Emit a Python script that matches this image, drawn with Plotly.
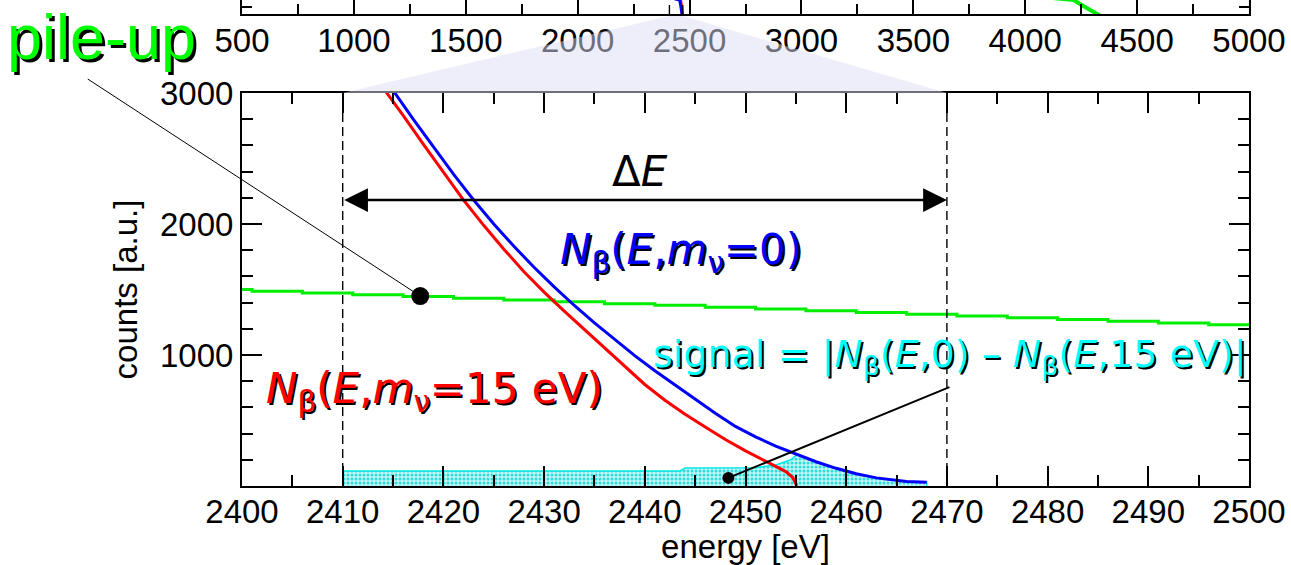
import plotly.graph_objects as go

# ---------------- data ----------------
# lower panel: zoom on the end-point region
blue_E = [2415, 2417, 2419, 2421, 2423, 2425, 2427, 2429, 2431, 2433, 2435, 2437, 2439,
          2441, 2443, 2445, 2447, 2449, 2451, 2453, 2455, 2457, 2459, 2461, 2463, 2465,
          2466, 2468]
blue_N = [3020, 2800, 2590, 2380, 2183, 2000, 1830, 1670, 1520, 1378, 1245, 1118, 995,
          880, 770, 660, 555, 455, 375, 305, 242, 185, 135, 93, 62, 42, 35, 28]

red_E = [2414, 2416, 2418, 2420, 2422, 2424, 2426, 2428, 2430, 2432, 2434, 2436, 2438,
         2440, 2442, 2444, 2446, 2448, 2450, 2452, 2453, 2454, 2454.7, 2455, 2455.1]
red_N = [3040, 2830, 2610, 2400, 2183, 1990, 1808, 1635, 1480, 1335, 1195, 1055, 915,
         775, 655, 548, 450, 355, 268, 188, 150, 110, 65, 20, 0]

green_E = [2400, 2401, 2406, 2411, 2416, 2421, 2426, 2431, 2436, 2441, 2446, 2451, 2456,
           2461, 2466, 2471, 2476, 2481, 2486, 2491, 2496, 2500]
green_N = [1500, 1487, 1473, 1460, 1446, 1433, 1419, 1406, 1392, 1379, 1365, 1352, 1338,
           1325, 1311, 1298, 1284, 1271, 1257, 1244, 1230, 1230]

signal_E = [2410, 2443.5, 2444, 2451, 2453, 2454.5, 2455.1, 2457, 2459, 2461, 2463, 2465,
            2466, 2468, 2468]
signal_N = [115, 115, 137, 140, 160, 200, 240, 185, 135, 93, 62, 42, 35, 28, 0]

window_E = [2410, 2470]          # Delta E analysis window
arrow_level = 2183               # height of the Delta E arrow
pileup_dot = (2417.7, 1450)
signal_dot = (2448.3, 62)
signal_line_end = (2470.4, 760)

# upper panel: full spectrum (only its lowest strip is visible)
up_blue_E = [2300, 2455, 2460, 2464, 2467, 2468]
up_blue_N = [1e5, 1000, 100, 10, 1, 0.3]
up_red_E = [2300, 2460, 2463, 2466, 2468, 2468.5]
up_red_N = [1e5, 1000, 100, 10, 1, 0.3]
up_green_E = [4000, 4217, 4250, 4283, 4316, 4340]
up_green_N = [1e4, 1000, 100, 10, 1, 0.3]

lower_xticks = [2400, 2410, 2420, 2430, 2440, 2450, 2460, 2470, 2480, 2490, 2500]
lower_yticks = [1000, 2000, 3000]
upper_xticks = [500, 1000, 1500, 2000, 2500, 3000, 3500, 4000, 4500, 5000]

# ---------------- layout geometry ----------------
W, H = 1291, 565
ML, MR, MT, MB = 242, 42, 0, 79
plot_h = H - MT - MB
lower_top = (plot_h - 93) / plot_h
upper_bottom = (plot_h - 14) / plot_h
LX = [2400, 2500]
UX = [500, 5000]

AX_FONT = dict(family="Liberation Sans, Arial, sans-serif", size=33, color="black")
LAB = "DejaVu Sans, sans-serif"

fig = go.Figure()

# upper panel traces
fig.add_trace(go.Scatter(x=up_red_E, y=up_red_N, xaxis="x2", yaxis="y2", mode="lines",
                         line=dict(color="#ff0000", width=3), hoverinfo="skip"))
fig.add_trace(go.Scatter(x=up_blue_E, y=up_blue_N, xaxis="x2", yaxis="y2", mode="lines",
                         line=dict(color="#0000ff", width=3), hoverinfo="skip"))
fig.add_trace(go.Scatter(x=up_green_E, y=up_green_N, xaxis="x2", yaxis="y2", mode="lines",
                         line=dict(color="#00ee00", width=4), hoverinfo="skip"))

# lower panel traces
fig.add_trace(go.Scatter(x=signal_E, y=signal_N, mode="lines", fill="tozeroy",
                         line=dict(color="#00e8e8", width=1.5),
                         fillcolor="#c4f6f6",
                         fillpattern=dict(shape=".", bgcolor="#c4f6f6", fgcolor="#30dada",
                                          size=4, solidity=0.45),
                         hoverinfo="skip"))
fig.add_trace(go.Scatter(x=green_E, y=green_N, mode="lines", line_shape="hv",
                         line=dict(color="#00ee00", width=3), hoverinfo="skip"))
fig.add_trace(go.Scatter(x=red_E, y=red_N, mode="lines",
                         line=dict(color="#ff0000", width=3), hoverinfo="skip"))
fig.add_trace(go.Scatter(x=blue_E, y=blue_N, mode="lines",
                         line=dict(color="#0000ff", width=3), hoverinfo="skip"))
fig.add_trace(go.Scatter(x=[pileup_dot[0]], y=[pileup_dot[1]], mode="markers",
                         marker=dict(color="black", size=18), hoverinfo="skip"))
fig.add_trace(go.Scatter(x=[signal_dot[0]], y=[signal_dot[1]], mode="markers",
                         marker=dict(color="black", size=12), hoverinfo="skip"))

# shapes
shapes = []
for e in window_E:
    shapes.append(dict(type="line", xref="x", yref="y", x0=e, x1=e, y0=0, y1=3000,
                       line=dict(color="black", width=1.4, dash="9px,5px"), layer="above"))
    shapes.append(dict(type="line", xref="x2", yref="y2 domain", x0=e, x1=e, y0=0, y1=1,
                       line=dict(color="black", width=1.4, dash="9px,5px"), layer="above"))

def ux(e):
    return (e - UX[0]) / (UX[1] - UX[0])

def lx(e):
    return (e - LX[0]) / (LX[1] - LX[0])

path = (f"M {ux(window_E[0])},{upper_bottom - 0.004} L {ux(window_E[1])},{upper_bottom - 0.004} "
        f"L {lx(window_E[1])},{lower_top} L {lx(window_E[0])},{lower_top} Z")
shapes.append(dict(type="path", xref="paper", yref="paper", path=path,
                   fillcolor="rgba(221,221,245,0.5)", line=dict(width=0), layer="above"))

shadow2 = "2px 2px 0px #000000"
annotations = [
    # pile-up label and pointer
    dict(xref="paper", yref="paper", x=(101 - ML) / (W - ML - MR), y=(plot_h - 37) / plot_h,
         text="pile-up", showarrow=False, xanchor="center", yanchor="middle",
         font=dict(family="Liberation Sans, Arial", size=63,
                   color="#00ff00", shadow="3px 3px 0px #000000")),
    dict(x=pileup_dot[0], y=pileup_dot[1], xref="x", yref="y", text="", showarrow=True,
         arrowhead=0, arrowwidth=1, arrowcolor="black", ax=-334, ay=-218, standoff=0),
    # Delta E arrow
    dict(x=window_E[1], y=arrow_level, ax=window_E[0], ay=arrow_level, xref="x", yref="y",
         axref="x", ayref="y", text="", showarrow=True, arrowhead=2, startarrowhead=2,
         arrowside="end+start", arrowsize=1.9, startarrowsize=1.9, arrowwidth=2.5,
         arrowcolor="black", standoff=0, startstandoff=0),
    dict(x=2439.5, y=2400, xref="x", yref="y", text="Δ<i>E</i>", showarrow=False,
         font=dict(family=LAB, size=42, color="black")),
    # spectrum labels
    dict(x=2443.6, y=1786, xref="x", yref="y",
         text="<i>N</i><sub>β</sub>(<i>E</i>,<i>m</i><sub>ν</sub>=0)", showarrow=False,
         font=dict(family=LAB, size=42, color="#0000ff", shadow=shadow2)),
    dict(x=2419.1, y=718, xref="x", yref="y",
         text="<i>N</i><sub>β</sub>(<i>E</i>,<i>m</i><sub>ν</sub>=15 eV)", showarrow=False,
         font=dict(family=LAB, size=42, color="#ff0000", shadow=shadow2)),
    dict(x=2470.3, y=985, xref="x", yref="y",
         text="signal = |<i>N</i><sub>β</sub>(<i>E</i>,0) – <i>N</i><sub>β</sub>(<i>E</i>,15 eV)|",
         showarrow=False,
         font=dict(family=LAB, size=38, color="#00ffff", shadow=shadow2)),
    # signal pointer
    dict(x=signal_dot[0], y=signal_dot[1], xref="x", yref="y", ax=signal_line_end[0],
         ay=signal_line_end[1], axref="x", ayref="y", text="", showarrow=True, arrowhead=0,
         arrowwidth=2, arrowcolor="black", standoff=0),
]

common_axis = dict(showline=True, linewidth=2, linecolor="black", ticks="inside",
                   tickwidth=1.5, tickcolor="black", showgrid=False, zeroline=False,
                   tickfont=AX_FONT)

fig.update_layout(
    width=W, height=H, template="none",
    margin=dict(l=ML, r=MR, t=MT, b=MB),
    paper_bgcolor="white", plot_bgcolor="white", showlegend=False,
    font=AX_FONT,
    xaxis=dict(common_axis, domain=[0, 1], anchor="y", range=LX, tickmode="array",
               tickvals=lower_xticks, ticktext=[str(v) for v in lower_xticks],
               ticklen=20, mirror="allticks", ticklabelstandoff=-5,
               minor=dict(ticks="inside", ticklen=11, tickwidth=1.5, tickcolor="black",
                          tickmode="linear", tick0=2400, dtick=5, showgrid=False),
               title=dict(text="energy [eV]", font=AX_FONT, standoff=6)),
    yaxis=dict(common_axis, domain=[0, lower_top], anchor="x", range=[0, 3000],
               tickmode="array", tickvals=lower_yticks,
               ticktext=[str(v) for v in lower_yticks], ticklen=20, mirror="allticks",
               minor=dict(ticks="inside", ticklen=11, tickwidth=1.5, tickcolor="black",
                          tickmode="linear", tick0=0, dtick=200, showgrid=False),
               title=dict(text="counts [a.u.]", font=AX_FONT, standoff=12)),
    xaxis2=dict(common_axis, domain=[0, 1], anchor="y2", range=UX, tickmode="array",
                tickvals=upper_xticks, ticktext=[str(v) for v in upper_xticks],
                ticklen=20, mirror=False, ticklabelstandoff=-4,
                minor=dict(ticks="inside", ticklen=10, tickwidth=1.5, tickcolor="black",
                           tickmode="linear", tick0=500, dtick=250, showgrid=False)),
    yaxis2=dict(common_axis, domain=[upper_bottom, 1], anchor="x2", type="log",
                range=[0, 3], tickmode="array", tickvals=[30], ticklen=10,
                showticklabels=False, mirror="allticks"),
    shapes=shapes,
    annotations=annotations,
)

fig.write_html("out.html", config={"displayModeBar": False},
               post_script="document.body.style.margin='0';document.body.style.overflow='hidden';")
